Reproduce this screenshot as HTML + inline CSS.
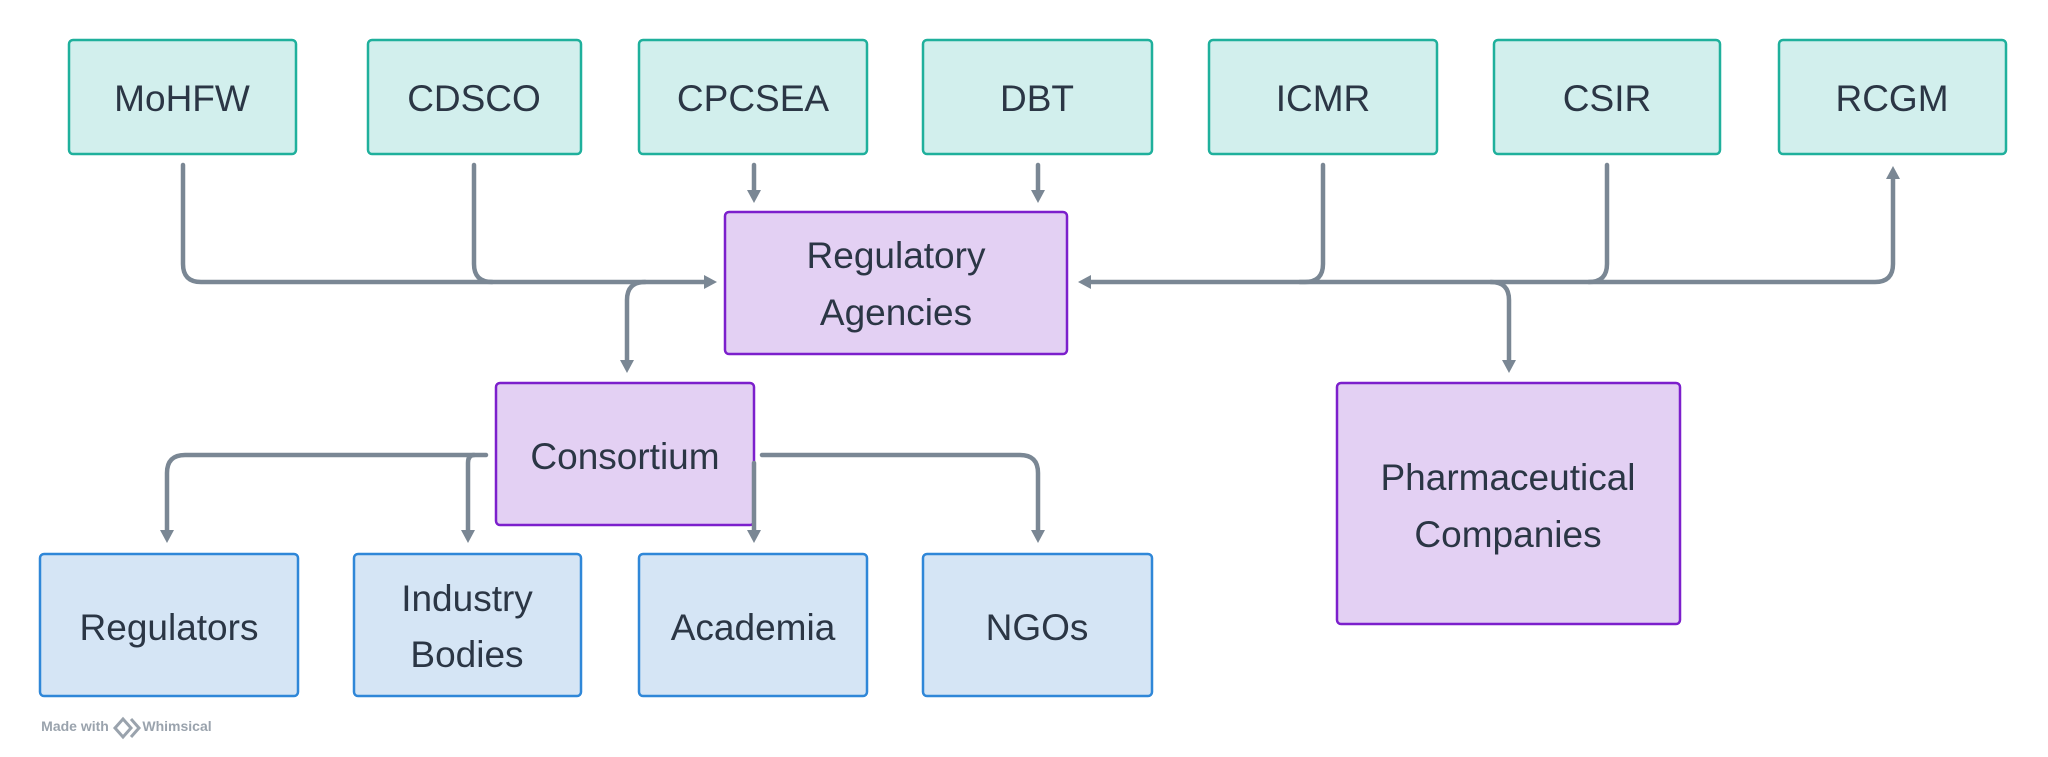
<!DOCTYPE html>
<html><head><meta charset="utf-8"><style>
html,body{margin:0;padding:0;background:#fff;}
svg{display:block;}
text{font-family:"Liberation Sans",sans-serif;fill:#2b3645;font-size:37px;text-anchor:middle;}
</style></head><body>
<svg width="2048" height="757" viewBox="0 0 2048 757" xmlns="http://www.w3.org/2000/svg">
<g fill="#d2efed" stroke="#1fb09c" stroke-width="2.5">
<rect x="69" y="40" width="227" height="114" rx="4"/>
<rect x="368" y="40" width="213" height="114" rx="4"/>
<rect x="639" y="40" width="228" height="114" rx="4"/>
<rect x="923" y="40" width="229" height="114" rx="4"/>
<rect x="1209" y="40" width="228" height="114" rx="4"/>
<rect x="1494" y="40" width="226" height="114" rx="4"/>
<rect x="1779" y="40" width="227" height="114" rx="4"/>
</g>
<g fill="#e3d0f3" stroke="#7c1fcc" stroke-width="2.5">
<rect x="725" y="212" width="342" height="142" rx="4"/>
<rect x="496" y="383" width="258" height="142" rx="4"/>
<rect x="1337" y="383" width="343" height="241" rx="4"/>
</g>
<g fill="#d5e5f5" stroke="#2f87d8" stroke-width="2.5">
<rect x="40" y="554" width="258" height="142" rx="4"/>
<rect x="354" y="554" width="227" height="142" rx="4"/>
<rect x="639" y="554" width="228" height="142" rx="4"/>
<rect x="923" y="554" width="229" height="142" rx="4"/>
</g>
<g fill="none" stroke="#7a8794" stroke-width="4.5" stroke-linecap="round" stroke-linejoin="round">
<path d="M183,165 V264 Q183,282 201,282 H706"/>
<path d="M474,165 V264 Q474,282 492,282"/>
<path d="M754,165 V192"/>
<path d="M1038,165 V192"/>
<path d="M1323,165 V264 Q1323,282 1305,282 H1088"/>
<path d="M1607,165 V264 Q1607,282 1589,282"/>
<path d="M1893,176 V264 Q1893,282 1875,282 H1300"/>
<path d="M1491,282 Q1509,282 1509,300 V362"/>
<path d="M645,282 Q627,282 627,300 V362"/>
<path d="M486,455 H185 Q167,455 167,473 V532"/>
<path d="M474,455 Q468,455 468,463 V532"/>
<path d="M754,463 V532"/>
<path d="M762,455 H1020 Q1038,455 1038,473 V532"/>
</g>
<g fill="#7a8794">
<path d="M747,190 L761,190 L754,203 z"/>
<path d="M1031,190 L1045,190 L1038,203 z"/>
<path d="M704,275 L704,289 L717,282 z"/>
<path d="M1091,275 L1091,289 L1078,282 z"/>
<path d="M1886,179 L1900,179 L1893,166 z"/>
<path d="M1502,360 L1516,360 L1509,373 z"/>
<path d="M620,360 L634,360 L627,373 z"/>
<path d="M160,530 L174,530 L167,543 z"/>
<path d="M461,530 L475,530 L468,543 z"/>
<path d="M747,530 L761,530 L754,543 z"/>
<path d="M1031,530 L1045,530 L1038,543 z"/>
</g>
<text x="182" y="111">MoHFW</text>
<text x="474" y="111">CDSCO</text>
<text x="753" y="111">CPCSEA</text>
<text x="1037" y="111">DBT</text>
<text x="1323" y="111">ICMR</text>
<text x="1607" y="111">CSIR</text>
<text x="1892" y="111">RCGM</text>
<text x="896" y="268">Regulatory</text>
<text x="896" y="325">Agencies</text>
<text x="625" y="469">Consortium</text>
<text x="1508" y="490">Pharmaceutical</text>
<text x="1508" y="547">Companies</text>
<text x="169" y="640">Regulators</text>
<text x="467" y="611">Industry</text>
<text x="467" y="667">Bodies</text>
<text x="753" y="640">Academia</text>
<text x="1037" y="640">NGOs</text>
<text x="75" y="731" style="font-size:14px;fill:#9aa3ad;font-weight:bold">Made with</text>
<path d="M123,719 L131,728 L123,737 L115,728 z M131,719 L139,728 L131,737" fill="none" stroke="#9aa3ad" stroke-width="3"/>
<text x="177" y="731" style="font-size:14px;fill:#9aa3ad;font-weight:bold">Whimsical</text>
</svg>
</body></html>
